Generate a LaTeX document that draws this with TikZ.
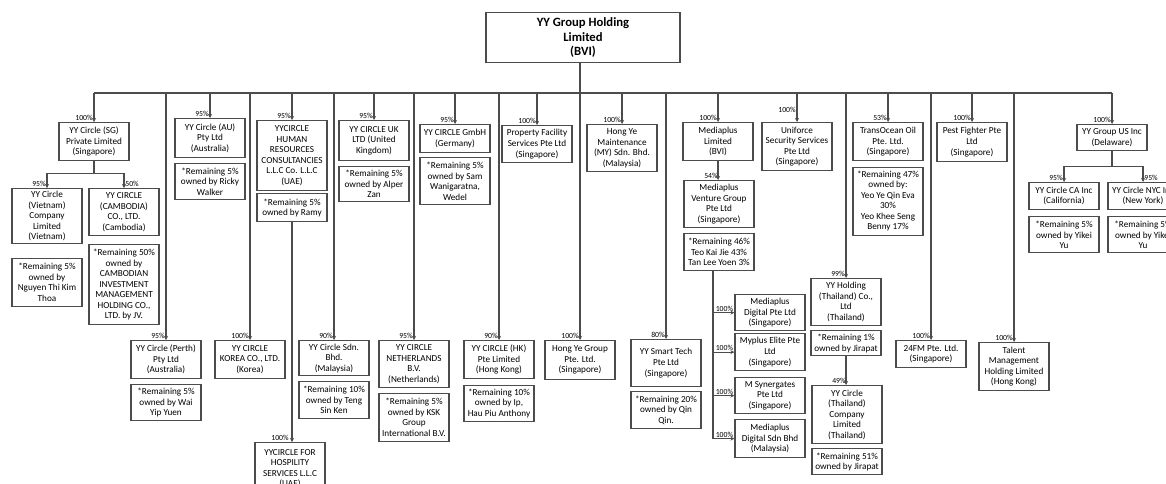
\documentclass[tikz,border=0pt]{standalone}
\usepackage{fontspec}
\setmainfont{Carlito}
\usetikzlibrary{positioning,arrows.meta,calc}

\begin{document}
\begin{tikzpicture}[x=0.75pt,y=-0.75pt,
  >={Stealth[length=3pt,width=3pt]},
  co/.style={draw=black!70,line width=0.9pt,minimum width=52.5pt,inner xsep=0.8pt,inner ysep=2pt,align=center,anchor=north,fill=white,font=\fontsize{6.9}{7.9}\selectfont},
  ht/.style={minimum height=#1*0.75pt},
  hold/.style={draw=black!70,line width=1.1pt,minimum width=145.5pt,minimum height=37.5pt,align=center,anchor=north,font=\fontsize{9.5}{11}\selectfont\bfseries},
  pct/.style={font=\fontsize{5.8}{6}\selectfont,inner sep=0.8pt,anchor=south east},
  pctr/.style={pct,anchor=south west},
  ln/.style={line width=0.9pt,black!70},
  lnk/.style={ln,->},
]
\path[use as bounding box,fill=white] (0,0) rectangle (1166,483);
\clip (0,0) rectangle (1166,483);

% holding company
\node[hold] (yy) at (583,12) {YY Group Holding\\Limited\\(BVI)};

% first row of subsidiaries
\node[co,ht=38,label={[pct]north:100\%}] (sg) at (94,122) {YY Circle (SG)\\Private Limited\\(Singapore)};
\node[co,ht=39,label={[pct]north:95\%}] (au) at (210,118) {YY Circle (AU)\\Pty Ltd\\(Australia)};
\node[co,ht=70,label={[pct]north:95\%}] (ae) at (292,120) {YYCIRCLE\\HUMAN\\RESOURCES\\CONSULTANCIES\\L.L.C Co. L.L.C\\(UAE)};
\node[co,ht=40,label={[pct]north:95\%}] (uk) at (374,120) {YY CIRCLE UK\\LTD (United\\Kingdom)};
\node[co,ht=28,label={[pct]north:95\%}] (de) at (455,124) {YY CIRCLE GmbH\\(Germany)};
\node[co,ht=37,label={[pct]north:100\%}] (pf) at (537,125) {Property Facility\\Services Pte Ltd\\(Singapore)};
\node[co,ht=47,label={[pct]north:100\%}] (hm) at (622,124) {Hong Ye\\Maintenance\\(MY) Sdn. Bhd.\\(Malaysia)};
\node[co,ht=38,label={[pct]north:100\%}] (mp) at (718,122) {Mediaplus\\Limited\\(BVI)};
\node[co,ht=48,label={[pct,yshift=6pt]north:100\%}] (uf) at (797,122) {Uniforce\\Security Services\\Pte Ltd\\(Singapore)};
\node[co,ht=38,label={[pct]north:53\%}] (to) at (888,122) {TransOcean Oil\\Pte. Ltd.\\(Singapore)};
\node[co,ht=39,label={[pct]north:100\%}] (pe) at (972,122) {Pest Fighter Pte\\Ltd\\(Singapore)};
\node[co,ht=26,label={[pct]north:100\%}] (us) at (1112,124) {YY Group US Inc\\(Delaware)};

% remaining shareholders
\node[co,ht=36,below=3.5pt of au] (aun) {*Remaining 5\%\\owned by Ricky\\Walker};
\node[co,ht=28,below=1.5pt of ae] (aen) {*Remaining 5\%\\owned by Ramy};
\node[co,ht=35,below=3.5pt of uk] (ukn) {*Remaining 5\%\\owned by Alper\\Zan};
\node[co,ht=47,below=3pt of de] (den) {*Remaining 5\%\\owned by Sam\\Wanigaratna,\\Wedel};
\node[co,ht=68,below=4pt of to] (ton) {*Remaining 47\%\\owned by:\\Yeo Ye Qin Eva\\30\%\\Yeo Khee Seng\\Benny 17\%};

% second tier
\node[co,ht=50,label={[pct]north:95\%}] (vn) at (47,188) {YY Circle\\(Vietnam)\\Company\\Limited\\(Vietnam)};
\node[co,ht=47,label={[pctr]north:50\%}] (kh) at (124,188) {YY CIRCLE\\(CAMBODIA)\\CO., LTD.\\(Cambodia)};
\node[co,ht=48,below=10pt of vn] (vnn) {*Remaining 5\%\\owned by\\Nguyen Thi Kim\\Thoa};
\node[co,ht=80,below=6pt of kh] (khn) {*Remaining 50\%\\owned by\\CAMBODIAN\\INVESTMENT\\MANAGEMENT\\HOLDING CO.,\\LTD. by JV.};
\node[co,ht=47,label={[pct]north:54\%}] (mv) at (719,180) {Mediaplus\\Venture Group\\Pte Ltd\\(Singapore)};
\node[co,ht=37,below=3.5pt of mv] (mvn) {*Remaining 46\%\\Teo Kai Jie 43\%\\Tan Lee Yoen 3\%};
\node[co,ht=27,label={[pct]north:95\%}] (ca) at (1064,182) {YY Circle CA Inc\\(California)};
\node[co,ht=27,label={[pctr]north:95\%}] (ny) at (1143,182) {YY Circle NYC Inc\\(New York)};
\node[co,ht=36,below=4.5pt of ca] (can) {*Remaining 5\%\\owned by Yikei\\Yu};
\node[co,ht=36,below=4.5pt of ny] (nyn) {*Remaining 5\%\\owned by Yikei\\Yu};

% lower row
\node[co,ht=38,label={[pct]north:95\%}] (pth) at (166,340) {YY Circle (Perth)\\Pty Ltd\\(Australia)};
\node[co,ht=36,below=3.5pt of pth] (pthn) {*Remaining 5\%\\owned by Wai\\Yip Yuen};
\node[co,ht=38,label={[pct]north:100\%}] (kr) at (250,340) {YY CIRCLE\\KOREA CO., LTD.\\(Korea)};
\node[co,ht=35,label={[pct]north:90\%}] (my) at (334,340) {YY Circle Sdn.\\Bhd.\\(Malaysia)};
\node[co,ht=37,below=3.5pt of my] (myn) {*Remaining 10\%\\owned by Teng\\Sin Ken};
\node[co,ht=47,label={[pct]north:95\%}] (nl) at (414,340) {YY CIRCLE\\NETHERLANDS\\B.V.\\(Netherlands)};
\node[co,ht=48,below=3.5pt of nl] (nln) {*Remaining 5\%\\owned by KSK\\Group\\International B.V.};
\node[co,ht=38,label={[pct]north:90\%}] (hk) at (499,340) {YY CIRCLE (HK)\\Pte Limited\\(Hong Kong)};
\node[co,ht=36,below=4pt of hk] (hkn) {*Remaining 10\%\\owned by Ip,\\Hau Piu Anthony};
\node[co,ht=39,label={[pct]north:100\%}] (hg) at (580,340) {Hong Ye Group\\Pte. Ltd.\\(Singapore)};
\node[co,ht=47,label={[pct]north:80\%}] (st) at (666,339) {YY Smart Tech\\Pte Ltd\\(Singapore)};
\node[co,ht=37,below=3pt of st] (stn) {*Remaining 20\%\\owned by Qin\\Qin.};
\node[co,ht=52,label={[pct]north:100\%}] (hosp) at (290,442) {YYCIRCLE FOR\\HOSPILITY\\SERVICES L.L.C\\(UAE)};

% mediaplus group
\node[co,ht=36,label={[pct]west:100\%}] (md) at (770,294) {Mediaplus\\Digital Pte Ltd\\(Singapore)};
\node[co,ht=37,label={[pct]west:100\%}] (me) at (770,333) {Myplus Elite Pte\\Ltd\\(Singapore)};
\node[co,ht=36,label={[pct]west:100\%}] (ms) at (770,377) {M Synergates\\Pte Ltd\\(Singapore)};
\node[co,ht=38,label={[pct]west:100\%}] (mm) at (770,419) {Mediaplus\\Digital Sdn Bhd\\(Malaysia)};

% thailand and the rest
\node[co,ht=47,label={[pct]north:99\%}] (yh) at (846,278) {YY Holding\\(Thailand) Co.,\\Ltd\\(Thailand)};
\node[co,ht=25,below=3pt of yh] (yhn) {*Remaining 1\%\\owned by Jirapat};
\node[co,ht=58,label={[pct]north:49\%}] (yc) at (847,385) {YY Circle\\(Thailand)\\Company\\Limited\\(Thailand)};
\node[co,ht=26,below=3pt of yc] (ycn) {*Remaining 51\%\\owned by Jirapat};
\node[co,ht=27,label={[pct]north:100\%}] (fm) at (931,340) {24FM Pte. Ltd.\\(Singapore)};
\node[co,ht=48,label={[pct]north:100\%}] (tm) at (1014,342) {Talent\\Management\\Holding Limited\\(Hong Kong)};

% ownership lines
\coordinate (bus) at (583,93);
\draw[ln] (bus -| sg.north) -- (bus -| us.north);
\draw[lnk] (hg.north |- yy.south) -- (hg.north);
\foreach \c in {sg,au,ae,uk,de,pf,hm,mp,uf,to,pe,us,pth,kr,my,nl,hk,st,yh,fm,tm}
  \draw[lnk] (bus -| \c.north) -- (\c.north);
\draw[lnk] (sg.south) -- ++(0,12) -| (vn.north);
\draw[lnk] (sg.south) -- ++(0,12) -| (kh.north);
\draw[lnk] (us.south) -- ++(0,15) -| (ca.north);
\draw[lnk] (us.south) -- ++(0,15) -| (ny.north);
\draw[lnk] (mp.south) -- (mp.south |- mv.north);
\draw[lnk] (aen.south) -- (aen.south |- hosp.north);
\draw[lnk] (yhn.south) -- (yhn.south |- yc.north);
\coordinate (mvd) at ($(mvn.south)+(-6,0)$);
\draw[ln] (mvd) -- (mvd |- mm.west);
\foreach \b in {md,me,ms,mm}
  \draw[lnk] (mvd |- \b.west) -- (\b.west);
\end{tikzpicture}
\end{document}
